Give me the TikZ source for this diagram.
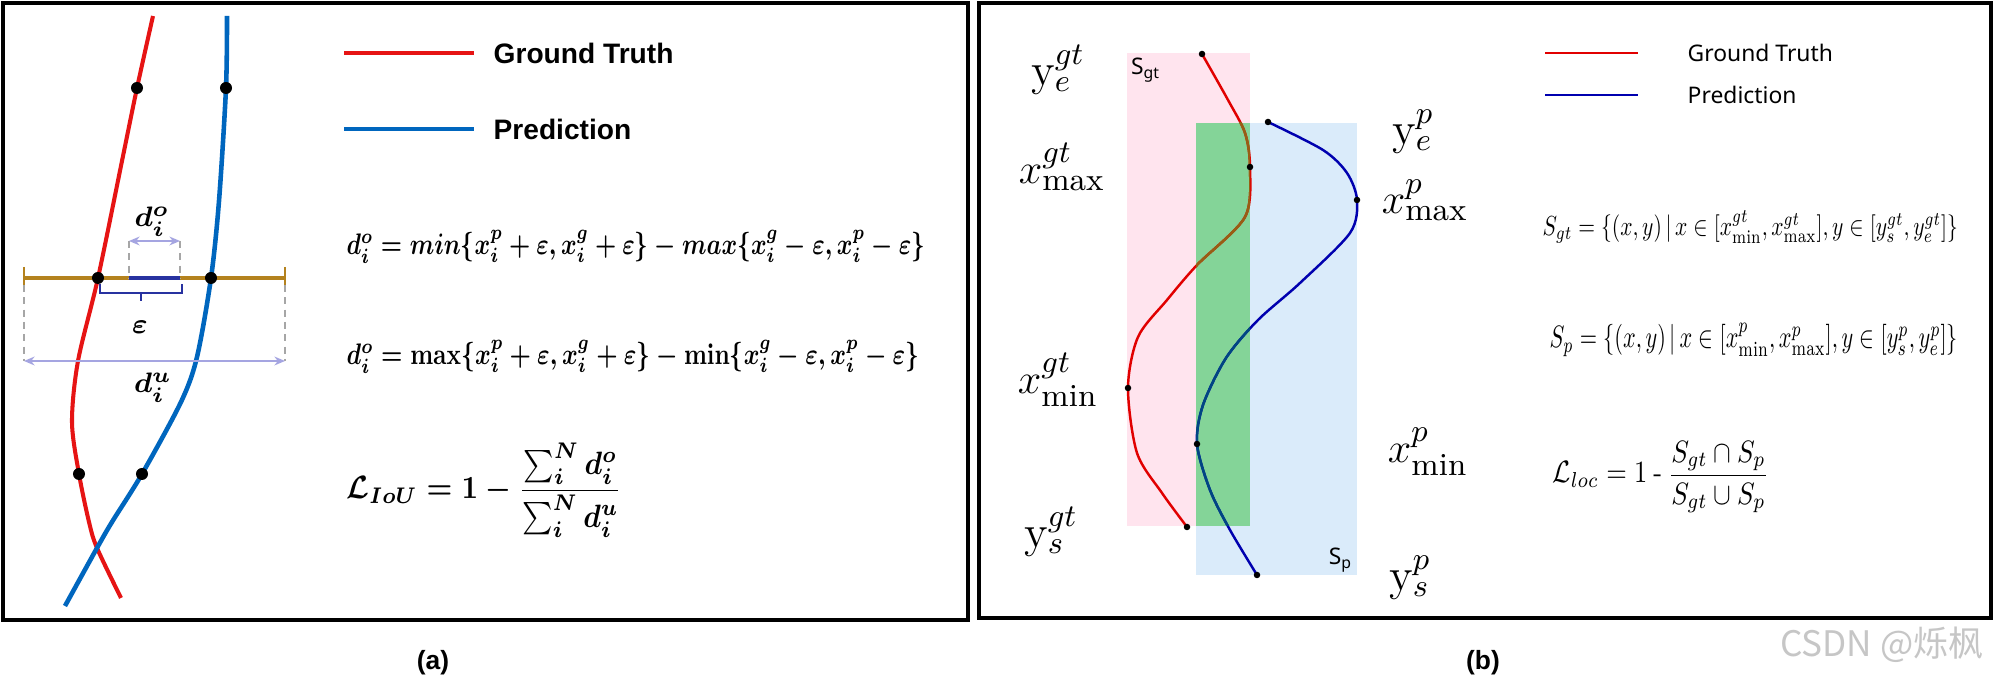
\documentclass[tikz,border=0pt]{standalone}
\usepackage{amsmath}
\usepackage{fontspec}
\newfontfamily\notosans{Noto Sans}
\newfontfamily\boldsans{Liberation Sans}
\newfontfamily\cjkfont{Noto Sans CJK SC}
\usetikzlibrary{arrows.meta}
\definecolor{gtred}{RGB}{230,20,20}
\definecolor{pdblue}{RGB}{0,102,190}
\definecolor{brownline}{RGB}{180,130,30}
\definecolor{lav}{RGB}{165,165,225}
\definecolor{navyb}{RGB}{40,50,160}
\definecolor{bred}{RGB}{225,0,0}
\definecolor{bblue}{RGB}{0,0,175}
\definecolor{bbrown}{RGB}{150,95,20}
\definecolor{bteal}{RGB}{0,70,130}
\definecolor{pinkfill}{RGB}{255,228,238}
\definecolor{bluefill}{RGB}{218,235,250}
\definecolor{greenfill}{RGB}{132,212,152}
\begin{document}
\begin{tikzpicture}[x=0.01cm,y=-0.01cm,
  dotA/.style={circle,fill=black,inner sep=0pt,minimum size=0.12cm},
  dotB/.style={circle,fill=black,inner sep=0pt,minimum size=0.065cm},
  panel/.style={draw=black,line width=1pt},
  legA/.style={font=\boldsans\bfseries\fontsize{8}{10}\selectfont,anchor=west,inner sep=0pt},
  legB/.style={font=\notosans\fontsize{6.5}{8}\selectfont,anchor=west,inner sep=0pt},
  lab/.style={font=\fontsize{13}{15}\selectfont,inner sep=0pt},
  dimlab/.style={font=\fontsize{8.5}{10}\selectfont\boldmath,inner sep=0pt},
  formula/.style={anchor=west,inner sep=0pt},
  dimarrow/.style={lav,line width=0.5pt,{Stealth[length=3pt,width=2.5pt]}-{Stealth[length=3pt,width=2.5pt]}},
  guide/.style={gray!70,line width=0.35pt,dash pattern=on 2pt off 1.5pt},
  captionlab/.style={font=\boldsans\bfseries\fontsize{7.5}{9}\selectfont,inner sep=0pt}
]
\useasboundingbox (0,0) rectangle (1996,680);
\fill[white] (0,0) rectangle (1996,680);

% ---------- panel (a) ----------
\draw[panel] (3,3) rectangle (968,620);

\draw[gtred,line width=1.15pt] plot[smooth] coordinates {(153,16) (137,88) (122,161) (98,278) (78,361) (72,422) (79,474) (89,522) (97,548) (121,598)};
\draw[pdblue,line width=1.3pt] plot[smooth] coordinates {(227,16) (226,88) (219,201) (211,278) (197,357) (181,402) (142,474) (112,522) (97,548) (65,606)};

\coordinate (hl) at (24,278);
\coordinate (hr) at (285,278);
\draw[brownline,line width=1pt] (hl) -- (hr);
\draw[brownline,line width=0.6pt] (24,267) -- (24,289);
\draw[brownline,line width=0.6pt] (285,267) -- (285,289);

\coordinate (ol) at (129,278);
\coordinate (or) at (180,278);
\coordinate (olt) at (129,241);
\coordinate (ort) at (180,241);
\draw[guide] (olt) -- (ol);
\draw[guide] (ort) -- (or);
\draw[dimarrow] (olt) -- (ort);
\draw[navyb,line width=1.3pt] (ol) -- (or);
\node[dimlab] (do) at (152,222) {$d_i^o$};

\draw[navyb,line width=0.6pt] (100,284) -- (100,293) -- (182,293) -- (182,284);
\draw[navyb,line width=0.6pt] (141,293) -- (141,301);
\node[dimlab] (eps) at (140,327) {$\varepsilon$};

\coordinate (ul) at (24,361);
\coordinate (ur) at (285,361);
\draw[guide] (24,285) -- (ul);
\draw[guide] (285,285) -- (ur);
\draw[dimarrow] (ul) -- (ur);
\node[dimlab] (du) at (153,388) {$d_i^u$};

\node[dotA] (a1) at (137,88) {};
\node[dotA] (a2) at (226,88) {};
\node[dotA] (a3) at (98,278) {};
\node[dotA] (a4) at (211,278) {};
\node[dotA] (a5) at (79,474) {};
\node[dotA] (a6) at (142,474) {};

\coordinate (lra) at (344,53);
\coordinate (lrb) at (474,53);
\draw[gtred,line width=1pt] (lra) -- (lrb);
\node[legA] (gtA) at (493,53) {Ground Truth};
\coordinate (lba) at (344,129);
\coordinate (lbb) at (474,129);
\draw[pdblue,line width=1.2pt] (lba) -- (lbb);
\node[legA] (pdA) at (493,129) {Prediction};

\node[formula] (f1) at (346,247) {\resizebox*{5.78cm}{0.33cm}{\boldmath$d_i^o = min\{x_i^p+\varepsilon, x_i^g+\varepsilon\} - max\{x_i^g-\varepsilon, x_i^p-\varepsilon\}$}};
\node[formula] (f2) at (346,357) {\resizebox*{5.72cm}{0.33cm}{\boldmath$d_i^o = \mathbf{max}\{x_i^p+\varepsilon, x_i^g+\varepsilon\} - \mathbf{min}\{x_i^g-\varepsilon, x_i^p-\varepsilon\}$}};
\node[formula] (f3) at (346,490) {\resizebox*{2.75cm}{0.94cm}{\boldmath$\mathcal{L}_{IoU} = 1 - \dfrac{\textstyle\sum_i^N d_i^o}{\textstyle\sum_i^N d_i^u}$}};

\node[captionlab] (capa) at (433,663) {(a)};

% ---------- panel (b) ----------
\draw[panel] (979,3) rectangle (1991,618);

\fill[pinkfill] (1127,53) rectangle (1250,526);
\fill[bluefill] (1196,123) rectangle (1357,575);
\fill[greenfill] (1196,123) rectangle (1250,526);

\def\redcurve{plot[smooth] coordinates {(1202,54) (1228,100) (1245,133) (1250,167) (1245,217) (1197,265) (1167,300) (1138,337) (1128,388) (1137,453) (1162,493) (1187,527)}}
\def\bluecurve{plot[smooth] coordinates {(1268,122) (1323,150) (1347,173) (1357,200) (1350,233) (1300,283) (1258,320) (1226,358) (1203,405) (1197,444) (1210,490) (1230,530) (1257,575)}}
\draw[bred,line width=0.7pt] \redcurve;
\draw[bblue,line width=0.7pt] \bluecurve;
\begin{scope}
  \clip (1196,123) rectangle (1250,526);
  \draw[bbrown,line width=0.7pt] \redcurve;
  \draw[bteal,line width=0.7pt] \bluecurve;
\end{scope}

\node[dotB] (b1) at (1202,54) {};
\node[dotB] (b2) at (1250,167) {};
\node[dotB] (b3) at (1128,388) {};
\node[dotB] (b4) at (1187,527) {};
\node[dotB] (b5) at (1268,122) {};
\node[dotB] (b6) at (1357,200) {};
\node[dotB] (b7) at (1197,444) {};
\node[dotB] (b8) at (1257,575) {};

\node[lab] (yegt) at (1058,70) {$\mathrm{y}_e^{gt}$};
\node[lab] (xmaxgt) at (1062,167) {$x^{gt}_{\mathrm{max}}$};
\node[lab] (xmingt) at (1058,380) {$x^{gt}_{\mathrm{min}}$};
\node[lab] (ysgt) at (1051,532) {$\mathrm{y}_s^{gt}$};
\node[lab] (yep) at (1413,132) {$\mathrm{y}_e^{p}$};
\node[lab] (xmaxp) at (1425,200) {$x^{p}_{\mathrm{max}}$};
\node[lab] (xminp) at (1428,452) {$x^{p}_{\mathrm{min}}$};
\node[lab] (ysp) at (1410,578) {$\mathrm{y}_s^{p}$};

\node[font=\notosans\fontsize{6.5}{8}\selectfont,inner sep=0pt] (sgtl) at (1145,70) {S\raisebox{-0.35ex}{\fontsize{4.5}{5}\selectfont gt}};
\node[font=\notosans\fontsize{6.5}{8}\selectfont,inner sep=0pt] (spl) at (1340,560) {S\raisebox{-0.35ex}{\fontsize{4.5}{5}\selectfont p}};

\coordinate (lrc) at (1545,53);
\coordinate (lrd) at (1638,53);
\draw[bred,line width=0.7pt] (lrc) -- (lrd);
\node[legB] (gtB) at (1687,53) {Ground Truth};
\coordinate (lbc) at (1545,95);
\coordinate (lbd) at (1638,95);
\draw[bblue,line width=0.8pt] (lbc) -- (lbd);
\node[legB] (pdB) at (1687,95) {Prediction};

\node[formula] (g1) at (1542,227) {\resizebox*{4.15cm}{0.33cm}{$S_{gt} = \{(x,y)\,|\,x\in[x^{gt}_{\mathrm{min}},x^{gt}_{\mathrm{max}}],y\in[y^{gt}_s,y^{gt}_e]\}$}};
\node[formula] (g2) at (1549,340) {\resizebox*{4.08cm}{0.33cm}{$S_{p} = \{(x,y)\,|\,x\in[x^{p}_{\mathrm{min}},x^{p}_{\mathrm{max}}],y\in[y^{p}_s,y^{p}_e]\}$}};
\node[formula] (g3) at (1552,477) {\resizebox*{2.16cm}{0.72cm}{$\mathcal{L}_{loc} = 1 \mathbin{\text{-}} \dfrac{S_{gt}\cap S_p}{S_{gt}\cup S_p}$}};

\node[captionlab] (capb) at (1483,663) {(b)};
\node[font=\cjkfont\fontsize{10}{12}\selectfont,text=gray!45,inner sep=0pt] (wm) at (1882,645) {CSDN @烁枫};
\end{tikzpicture}
\end{document}
